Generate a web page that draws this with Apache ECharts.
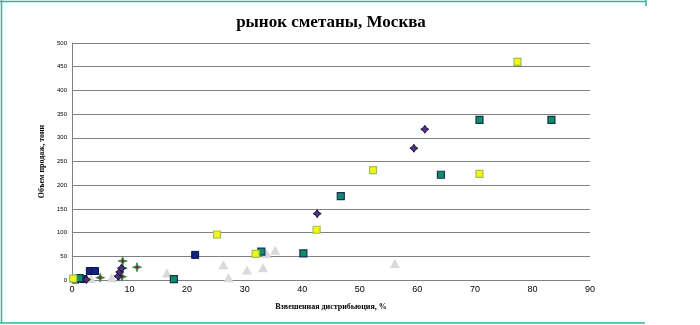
<!DOCTYPE html>
<html>
<head>
<meta charset="utf-8">
<script src="https://cdn.jsdelivr.net/npm/echarts@6/dist/echarts.min.js"></script>
<style>
html,body{margin:0;padding:0;background:#fff;}
#c{width:700px;height:325px;}
</style>
</head>
<body>
<div id="c"></div>
<script>
const xTicks = [0, 10, 20, 30, 40, 50, 60, 70, 80, 90];
const yTicks = [0, 50, 100, 150, 200, 250, 300, 350, 400, 450, 500];

const yellowX = [0.2, 25.2, 31.9, 42.5, 52.3, 70.8, 77.4];
const yellowY = [3, 96, 55, 106, 232, 224, 460];

const tealX = [1.3, 17.7, 32.9, 40.2, 46.7, 64.1, 70.8, 83.3];
const tealY = [4, 2, 60, 56, 177, 222, 338, 338];

const navyX = [0.6, 2.0, 3.1, 4.0, 21.4];
const navyY = [1, 2, 19, 19, 53];

const purpleX = [2.5, 8.0, 8.3, 8.6, 42.6, 59.4, 61.3];
const purpleY = [1, 8, 17, 25, 140, 278, 318];

const starX = [4.9, 8.2, 8.7, 8.8, 8.8, 11.3];
const starY = [5, 7, 7, 25, 40, 27];

const triX = [3.3, 6.9, 16.5, 26.3, 27.2, 30.4, 33.2, 33.8, 35.3, 56.1];
const triY = [3, 5, 15, 32, 5, 21, 26, 56, 63, 35];

const zip = (xs, ys) => xs.map((x, i) => [x, ys[i]]);

const chart = echarts.init(document.getElementById('c'), null, {renderer: 'canvas'});
chart.setOption({
  animation: false,
  backgroundColor: '#ffffff',
  title: {
    text: 'рынок сметаны, Москва',
    left: 326,
    top: 9,
    textAlign: 'center',
    textStyle: {fontFamily: 'Liberation Serif', fontWeight: 'bold', fontSize: 17, color: '#000'}
  },
  grid: {left: 72, right: 110, top: 43, bottom: 45},
  xAxis: {
    type: 'value', min: xTicks[0], max: xTicks[xTicks.length - 1], interval: 10,
    name: 'Взвешенная дистрибьюция, %', nameLocation: 'middle', nameGap: 23,
    nameTextStyle: {fontFamily: 'Liberation Serif', fontWeight: 'bold', fontSize: 8, color: '#000'},
    axisLine: {show: true, lineStyle: {color: '#808080', width: 1}},
    axisTick: {show: false},
    splitLine: {show: false},
    axisLabel: {fontFamily: 'Liberation Sans', fontSize: 9, color: '#000', margin: 5}
  },
  yAxis: {
    type: 'value', min: yTicks[0], max: yTicks[yTicks.length - 1], interval: 50,
    name: 'Объем продаж, тонн', nameLocation: 'middle', nameGap: 20, nameRotate: 90,
    nameTextStyle: {fontFamily: 'Liberation Serif', fontWeight: 'bold', fontSize: 8, color: '#000'},
    axisLine: {show: true, lineStyle: {color: '#808080', width: 1}},
    axisTick: {show: false},
    splitLine: {show: true, lineStyle: {color: '#808080', width: 1}},
    axisLabel: {fontFamily: 'Liberation Sans', fontSize: 6, color: '#000', margin: 5}
  },
  graphic: [
    {type: 'line', shape: {x1: 1.5, y1: 0, x2: 1.5, y2: 323}, style: {stroke: '#2cb89e', lineWidth: 1.5}},
    {type: 'line', shape: {x1: 0, y1: 1.5, x2: 646, y2: 1.5}, style: {stroke: '#2cb89e', lineWidth: 1.5}},
    {type: 'line', shape: {x1: 646, y1: 0, x2: 646, y2: 6}, style: {stroke: '#2cb89e', lineWidth: 1.5}},
    {type: 'line', shape: {x1: 0, y1: 323, x2: 645, y2: 323}, style: {stroke: '#2cb89e', lineWidth: 1.5}}
  ],
  series: [
    {name: 'Серия 6', type: 'scatter', symbol: 'triangle', symbolSize: [10, 9],
     itemStyle: {color: '#d9d9d9', opacity: 1}, data: zip(triX, triY)},
    {name: 'Серия 3', type: 'scatter', symbol: 'rect', symbolSize: 7,
     itemStyle: {color: '#14237a', borderColor: '#0a1448', borderWidth: 1, opacity: 1}, data: zip(navyX, navyY)},
    {name: 'Серия 2', type: 'scatter', symbol: 'rect', symbolSize: 7,
     itemStyle: {color: '#0f8f62', borderColor: '#16305a', borderWidth: 1.2, opacity: 1}, data: zip(tealX, tealY)},
    {name: 'Серия 1', type: 'scatter', symbol: 'rect', symbolSize: 7,
     itemStyle: {color: '#f5f50f', borderColor: '#98c255', borderWidth: 1.2, opacity: 1}, data: zip(yellowX, yellowY)},
    {name: 'Серия 5', type: 'scatter',
     symbol: 'path://M5,0 L6.2,3.8 L10,5 L6.2,6.2 L5,10 L3.8,6.2 L0,5 L3.8,3.8 Z', symbolSize: 9,
     itemStyle: {color: '#7a2a1a', borderColor: '#3c8f5a', borderWidth: 1, opacity: 1}, data: zip(starX, starY)},
    {name: 'Серия 4', type: 'scatter',
     symbol: 'path://M5,0 L7,3 L10,5 L7,7 L5,10 L3,7 L0,5 L3,3 Z', symbolSize: 8,
     itemStyle: {color: '#4f2f80', borderColor: '#1c1430', borderWidth: 1, opacity: 1}, data: zip(purpleX, purpleY)}
  ]
});
</script>
</body>
</html>
